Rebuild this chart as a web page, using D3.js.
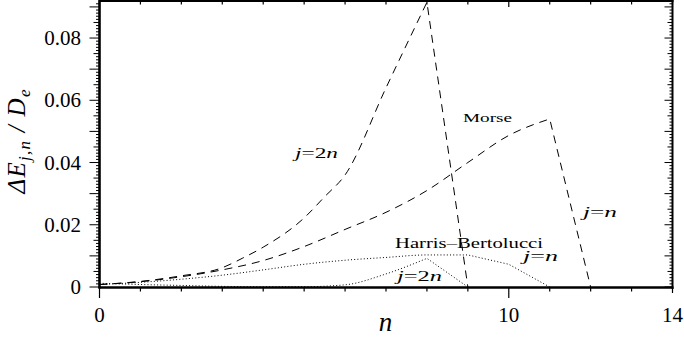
<!DOCTYPE html>
<html>
<head>
<meta charset="utf-8">
<script src="https://cdn.jsdelivr.net/npm/d3@7"></script>
<style>
  html, body { margin: 0; padding: 0; background: #fff; }
  svg { display: block; }
</style>
</head>
<body>
<svg id="chart" width="684" height="339" font-family="'Liberation Serif', 'Times New Roman', serif"></svg>
<script>
// Energy-level spacing ΔE_{j,n}/D_e versus vibrational quantum number n.
// Each series rises smoothly, then falls straight to zero at its last point.
const morse2nN   = [0, 1, 2, 3, 3.5, 4, 5, 5.5, 6, 7, 8, 9];
const morse2nV   = [0.0008, 0.0018, 0.0036, 0.0062, 0.0093, 0.0128, 0.0222, 0.029, 0.036, 0.064, 0.0915, 0];

const morseNN    = [0, 1, 2, 3, 4, 5, 6, 7, 8, 9, 10, 11, 12];
const morseNV    = [0.0008, 0.0017, 0.0033, 0.0055, 0.0085, 0.013, 0.0185, 0.024, 0.031, 0.040, 0.0487, 0.054, 0];

const hbNN       = [0, 1, 2, 3, 4, 5, 6, 7, 8, 9, 10, 11];
const hbNV       = [0.0008, 0.0015, 0.0025, 0.0038, 0.0055, 0.0073, 0.0086, 0.0095, 0.0103, 0.0103, 0.0073, 0];

const hb2nN      = [0, 1, 2, 3, 4, 5, 6, 7, 8, 9];
const hb2nV      = [0.0012, 0.0008, 0.0005, 0.0002, 0.0001, 0.0001, 0.0007, 0.0042, 0.0092, 0];

const xTickLabels = [0, 10, 14];
const yTickLabels = [0, 0.02, 0.04, 0.06, 0.08];

const svg = d3.select("#chart");
const L = 99.5, R = 672.5, T = 1, B = 287;

const x = d3.scaleLinear().domain([0, 14]).range([L, R]);
const y = d3.scaleLinear().domain([0, 0.0919]).range([B, T]);

const smooth = d3.line().x(d => x(d[0])).y(d => y(d[1])).curve(d3.curveMonotoneX);
const pairs = (ns, vs) => ns.map((n, i) => [n, vs[i]]);

// smooth through the first `k` points, straight segments for the rest
function seriesPath(ns, vs, k) {
  const p = pairs(ns, vs);
  let d = smooth(p.slice(0, k));
  p.slice(k).forEach(q => { d += "L" + x(q[0]) + "," + y(q[1]); });
  return d;
}

const curves = [
  { d: seriesPath(morse2nN, morse2nV, morse2nN.length - 1), dash: "8,6" },
  { d: seriesPath(morseNN, morseNV, morseNN.length - 1),    dash: "8,6" },
  { d: seriesPath(hbNN, hbNV, hbNN.length - 2),             dash: "1,2.2" },
  { d: seriesPath(hb2nN, hb2nV, hb2nN.length - 1),          dash: "1,2.2" }
];

svg.append("g").selectAll("path").data(curves).join("path")
  .attr("d", c => c.d)
  .attr("fill", "none")
  .attr("stroke", "#000")
  .attr("stroke-width", 1)
  .attr("stroke-dasharray", c => c.dash);

// ticks
const axes = svg.append("g").attr("stroke", "#000");
const yMinor = d3.range(0, 0.0915, 0.001).map(v => +v.toFixed(3));
const ylen = (v, a, b, c) => {
  const k = Math.round(v * 1000);
  return k % 10 === 0 ? a : (k % 5 === 0 ? b : c);
};
yMinor.forEach(v => {
  axes.append("line").attr("x1", L - ylen(v, 10, 6, 3.5)).attr("x2", L)
    .attr("y1", y(v)).attr("y2", y(v)).attr("stroke-width", 1);
  axes.append("line").attr("x1", R).attr("x2", R - ylen(v, 8, 5, 3))
    .attr("y1", y(v)).attr("y2", y(v)).attr("stroke-width", 1);
});
d3.range(0, 15).forEach(n => {
  const major = n % 10 === 0;
  axes.append("line").attr("x1", x(n)).attr("x2", x(n))
    .attr("y1", B).attr("y2", B + (major ? 11 : (n === 14 ? 6 : 4.5))).attr("stroke-width", 1.2);
  axes.append("line").attr("x1", x(n)).attr("x2", x(n))
    .attr("y1", T).attr("y2", T + (major ? 6 : 3.5)).attr("stroke-width", 1.2);
});

// frame
axes.append("line").attr("x1", L).attr("x2", L).attr("y1", 0).attr("y2", B + 1.5).attr("stroke-width", 2.6);
axes.append("line").attr("x1", L - 1).attr("x2", R + 1).attr("y1", B + 0.5).attr("y2", B + 0.5).attr("stroke-width", 2.6);
axes.append("line").attr("x1", R).attr("x2", R).attr("y1", 0).attr("y2", B + 2).attr("stroke-width", 2);
axes.append("line").attr("x1", L).attr("x2", R + 1).attr("y1", T).attr("y2", T).attr("stroke-width", 2);

// tick labels
svg.append("g").selectAll("text").data(yTickLabels).join("text")
  .attr("x", 81).attr("y", d => y(d) + 7)
  .attr("text-anchor", "end").attr("font-size", 21)
  .text(d => d === 0 ? "0" : d.toFixed(2));
svg.append("g").selectAll("text").data(xTickLabels).join("text")
  .attr("x", d => x(d)).attr("y", 322)
  .attr("text-anchor", "middle").attr("font-size", 21)
  .text(d => d);

// axis titles
svg.append("text").attr("x", 385.5).attr("y", 331).attr("text-anchor", "middle")
  .attr("font-size", 27).attr("font-style", "italic").text("n");

const yl = svg.append("text").attr("transform", "translate(25,141.5) rotate(-90)")
  .attr("text-anchor", "middle").attr("font-size", 25).attr("font-style", "italic")
  .attr("textLength", 104).attr("lengthAdjust", "spacing");
yl.append("tspan").text("ΔE");
yl.append("tspan").attr("font-size", 17).attr("dy", 5).text("j,n");
yl.append("tspan").attr("dy", -5).text(" / D");
yl.append("tspan").attr("font-size", 17).attr("dy", 5).text("e");

// curve labels
function mathLabel(parts, xPos, yPos, width) {
  const t = svg.append("text").attr("x", xPos).attr("y", yPos).attr("font-size", 14)
    .attr("textLength", width).attr("lengthAdjust", "spacingAndGlyphs");
  parts.forEach(p => t.append("tspan").attr("font-style", p[1] ? "italic" : "normal").text(p[0]));
}
mathLabel([["j", 1], ["=", 0], ["2", 0], ["n", 1]], 295, 158, 43);
mathLabel([["j", 1], ["=", 0], ["n", 1]], 583, 217, 34);
mathLabel([["j", 1], ["=", 0], ["n", 1]], 523, 261, 35);
mathLabel([["j", 1], ["=", 0], ["2", 0], ["n", 1]], 397, 281, 45);

svg.append("text").attr("x", 463).attr("y", 122).attr("font-size", 13.5)
  .attr("textLength", 49).attr("lengthAdjust", "spacingAndGlyphs").text("Morse");
svg.append("text").attr("x", 395).attr("y", 247.5).attr("font-size", 14)
  .attr("textLength", 148).attr("lengthAdjust", "spacingAndGlyphs").text("Harris–Bertolucci");
</script>
</body>
</html>
